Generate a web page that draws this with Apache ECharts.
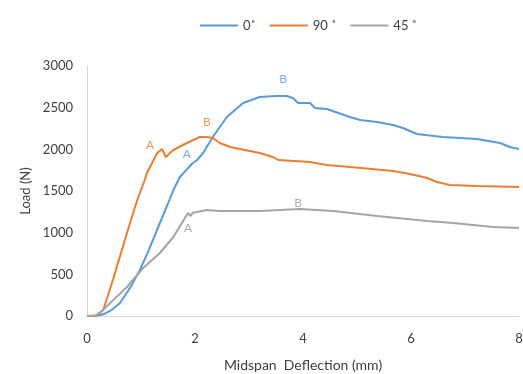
<!DOCTYPE html>
<html><head><meta charset="utf-8">
<script src="https://cdn.jsdelivr.net/npm/echarts@6/dist/echarts.min.js"></script>
<style>html,body{margin:0;padding:0;background:#fff}#c{width:523px;height:374px}</style>
</head><body><div id="c"></div>
<script>
const seriesNames = ['0˚', '90 ˚', '45 ˚'];
const xTicks = [0, 2, 4, 6, 8];
const yTicks = [0, 500, 1000, 1500, 2000, 2500, 3000];
const blue = [[0,0],[0.15,0],[0.3,20],[0.45,70],[0.61,156],[0.8,340],[0.98,552],[1.15,800],[1.35,1116],[1.5,1350],[1.6,1512],[1.72,1668],[1.85,1760],[1.95,1830],[2.04,1872],[2.15,1956],[2.33,2148],[2.59,2388],[2.89,2556],[3.2,2628],[3.5,2640],[3.7,2640],[3.81,2616],[3.91,2556],[4.13,2556],[4.22,2496],[4.44,2484],[4.87,2388],[5.06,2352],[5.37,2328],[5.67,2292],[5.85,2256],[6.11,2184],[6.59,2148],[7.22,2124],[7.65,2076],[7.83,2028],[8.0,2004]];
const orange = [[0,0],[0.15,0],[0.3,72],[0.48,432],[0.74,996],[0.93,1392],[1.07,1632],[1.11,1716],[1.3,1956],[1.39,2004],[1.46,1908],[1.6,1992],[1.85,2076],[2.09,2148],[2.22,2148],[2.33,2136],[2.46,2076],[2.65,2028],[3.2,1956],[3.44,1908],[3.54,1872],[4.13,1848],[4.44,1812],[4.87,1788],[5.67,1740],[5.98,1704],[6.3,1656],[6.48,1608],[6.72,1572],[7.22,1560],[8.0,1548]];
const gray = [[0,0],[0.15,5],[0.24,36],[0.43,156],[0.74,348],[1.04,576],[1.35,756],[1.6,948],[1.87,1236],[1.92,1200],[1.96,1240],[2.22,1272],[2.46,1260],[3.2,1260],[3.94,1284],[4.56,1260],[5.37,1200],[6.3,1140],[6.78,1116],[7.52,1068],[8.0,1056]];
const annBlue = [[1.85,1944,'A'],[3.63,2844,'B']];
const annOrange = [[1.17,2052,'A'],[2.22,2328,'B']];
const annGray = [[1.87,1056,'A'],[3.91,1356,'B']];
const colors = ['#5B9BD5', '#ED7D31', '#A5A5A5'];
const font = 'Lato, "Open Sans", sans-serif';
function ann(data, color) {
  return {type:'scatter', data:data, symbolSize:0, silent:true, legendHoverLink:false,
    label:{show:true, formatter:p=>p.data[2], position:'inside', color:color, fontSize:12, fontFamily:font}};
}
const chart = echarts.init(document.getElementById('c'));
chart.setOption({
  animation:false,
  legend:{top:14, left:195, itemWidth:38, itemHeight:2, itemGap:14,
    data:seriesNames.map((n,i)=>({name:n, icon:'rect'})),
    textStyle:{color:'#404040', fontSize:13, fontFamily:font}},
  grid:{left:87, right:4, top:66, bottom:58, containLabel:false, outerBoundsMode:'none'},
  xAxis:{type:'value', min:0, max:8, interval:2,
    name:'Midspan  Deflection (mm)', nameLocation:'middle', nameGap:42,
    nameTextStyle:{color:'#404040', fontSize:14, fontFamily:font},
    axisLine:{lineStyle:{color:'#D9D9D9'}}, axisTick:{show:false}, splitLine:{show:false},
    axisLabel:{color:'#404040', fontSize:13, fontFamily:font, margin:16}},
  yAxis:{type:'value', min:0, max:3000, interval:500,
    name:'Load (N)', nameLocation:'middle', nameGap:50, nameRotate:90,
    nameTextStyle:{color:'#404040', fontSize:13, fontFamily:font},
    axisLine:{show:true, lineStyle:{color:'#D9D9D9'}}, axisTick:{show:false}, splitLine:{show:false},
    axisLabel:{color:'#404040', fontSize:13, fontFamily:font, margin:14, formatter:v=>String(v)}},
  series:[
    {name:seriesNames[0], type:'line', data:blue, showSymbol:false, color:colors[0], lineStyle:{width:2}},
    {name:seriesNames[1], type:'line', data:orange, showSymbol:false, color:colors[1], lineStyle:{width:2}},
    {name:seriesNames[2], type:'line', data:gray, showSymbol:false, color:colors[2], lineStyle:{width:2}},
    ann(annBlue, colors[0]), ann(annOrange, colors[1]), ann(annGray, '#999999')
  ]
});
</script></body></html>
